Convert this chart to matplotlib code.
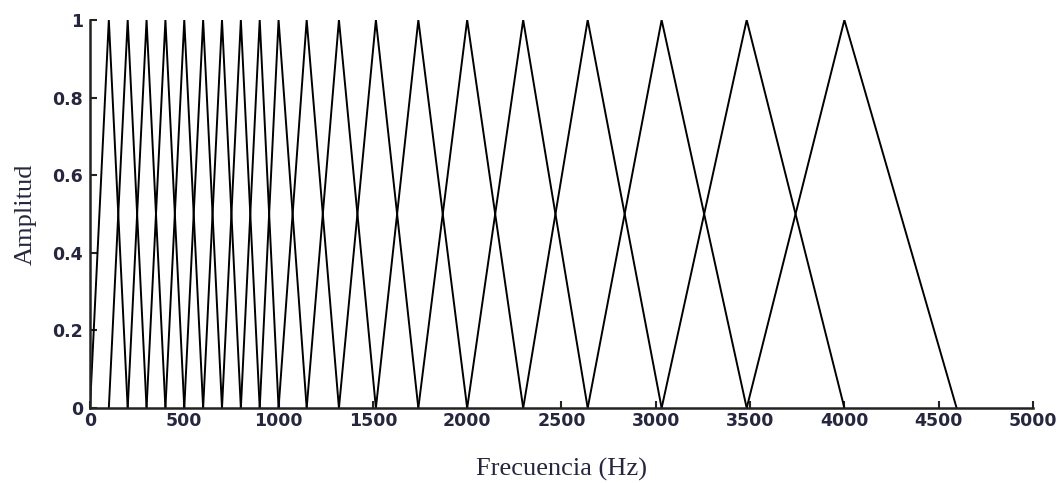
import numpy as np
import matplotlib
matplotlib.use('Agg')
import matplotlib.pyplot as plt
from matplotlib.ticker import FormatStrFormatter

# filter band edges (Hz): lower edge, centers, upper edge
linear_centers = [100, 200, 300, 400, 500, 600, 700, 800, 900, 1000]
log_centers = [1149, 1320, 1516, 1741, 2000, 2297, 2639, 3031, 3482, 4000]
lower_edge = 0
upper_edge = 4595

edges = [lower_edge] + linear_centers + log_centers + [upper_edge]
peak = [0, 1, 0]

x_ticks = [0, 500, 1000, 1500, 2000, 2500, 3000, 3500, 4000, 4500, 5000]
y_ticks = [0, 0.2, 0.4, 0.6, 0.8, 1]

TEXT_COLOR = '#26263e'

fig = plt.figure(figsize=(10.61, 4.83), dpi=100)
ax = fig.add_axes([0.0848, 0.1553, 0.8888, 0.8033])

for i in range(len(edges) - 2):
    ax.plot(edges[i:i + 3], peak, color='black', linewidth=1.4,
            solid_joinstyle='miter')

ax.set_xlim(0, 5000)
ax.set_ylim(0, 1)
ax.set_xticks(x_ticks)
ax.set_yticks(y_ticks)
ax.yaxis.set_major_formatter(FormatStrFormatter('%g'))

for side in ['top', 'right']:
    ax.spines[side].set_visible(False)
for side in ['left', 'bottom']:
    ax.spines[side].set_linewidth(1.8)
    ax.spines[side].set_color('#222222')

ax.tick_params(direction='in', length=5, width=1.5, colors='#222222',
               labelcolor=TEXT_COLOR, labelsize=12.5)
ax.tick_params(axis='x', pad=3)
ax.tick_params(axis='y', pad=5)
for lbl in ax.get_xticklabels() + ax.get_yticklabels():
    lbl.set_fontweight('bold')

ax.set_xlabel('Frecuencia (Hz)', family='Liberation Serif', fontsize=19,
              color=TEXT_COLOR, labelpad=20)
ax.set_ylabel('Amplitud', family='Liberation Serif', fontsize=19,
              color=TEXT_COLOR, labelpad=11)

plt.savefig('out.png', dpi=100)
